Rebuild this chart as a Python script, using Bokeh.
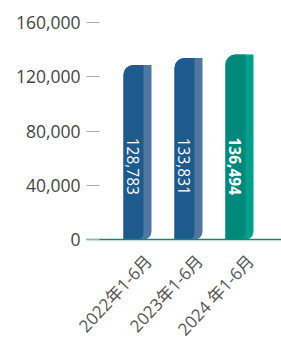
import math
from bokeh.plotting import figure
from bokeh.models import Range1d, FixedTicker, ColumnDataSource, NumeralTickFormatter
from bokeh.core.properties import value
from bokeh.embed import file_html
from bokeh.resources import INLINE

categories = ["2022年1-6月", "2023年1-6月", "2024 年1-6月"]
values = [128783, 133831, 136494]
value_labels = ["128,783", "133,831", "136,494"]
dark_colors = ["#1e5a8c", "#1e5a8c", "#00897a"]
light_colors = ["#4f77a4", "#4f77a4", "#00a08b"]
label_styles = ["normal", "normal", "bold"]
y_ticks = [0, 40000, 80000, 120000, 160000]

FONT = "Open Sans, Noto Sans CJK SC"
idx = list(range(len(categories)))

X_START, X_END = -2.686, 2.824   # frame spans the whole figure width
AXIS_X = -1.0                     # where the value axis sits

src = ColumnDataSource(dict(
    x=idx,
    left_full=[i - 0.275 for i in idx],
    right_full=[i + 0.275 for i in idx],
    right_dark=[i + 0.118 for i in idx],
    xt=[i - 0.08 for i in idx],
    top=values,
    bottom=[0] * len(idx),
    lab=value_labels,
    cat=categories,
    dark=dark_colors,
    light=light_colors,
    style=label_styles,
    ylab=[54000] * len(idx),
))

p = figure(width=281, height=339, output_backend="svg", toolbar_location=None,
           x_range=Range1d(X_START, X_END), y_range=Range1d(-73800, 166000),
           min_border_left=0, min_border_right=0, min_border_top=14,
           min_border_bottom=0, x_axis_location=None)
p.outline_line_color = None
p.xgrid.visible = False
p.ygrid.visible = False
p.background_fill_color = "white"
p.border_fill_color = "white"

# light full bar behind
p.quad(left="left_full", right="right_full", bottom="bottom", top="top", source=src,
       fill_color="light", line_color=None, border_radius=(10, 0, 8, 0))
# dark front part
p.quad(left="left_full", right="right_dark", bottom="bottom", top="top", source=src,
       fill_color="dark", line_color=None, border_radius=(10, 0, 6, 0))

p.text(x="xt", y="ylab", text="lab", source=src, angle=-math.pi / 2,
       text_color="white", text_font=value(FONT), text_font_size="15.5px",
       text_font_style="style", text_align="center", text_baseline="middle")

# baseline (category axis line)
p.segment(x0=AXIS_X, x1=X_END, y0=0, y1=0, line_color="#0e8a73", line_width=1.5)

# category labels
p.text(x="x", y="bottom", text="cat", source=src, angle=math.radians(47),
       x_offset=11, y_offset=18, text_align="right", text_baseline="middle",
       text_font=value(FONT), text_font_size="17px", text_color="#555555")

# y axis placed inside the frame
ya = p.yaxis[0]
ya.fixed_location = AXIS_X
ya.ticker = FixedTicker(ticks=y_ticks)
ya.formatter = NumeralTickFormatter(format="0,0")
ya.axis_line_color = None
ya.major_tick_in = 13
ya.major_tick_out = 0
ya.major_tick_line_color = "#aaaaaa"
ya.minor_tick_line_color = None
ya.major_label_standoff = 6
ya.major_label_text_font = FONT
ya.major_label_text_font_size = "17.5px"
ya.major_label_text_color = "#444444"

open("out.html", "w").write(file_html(p, INLINE))
